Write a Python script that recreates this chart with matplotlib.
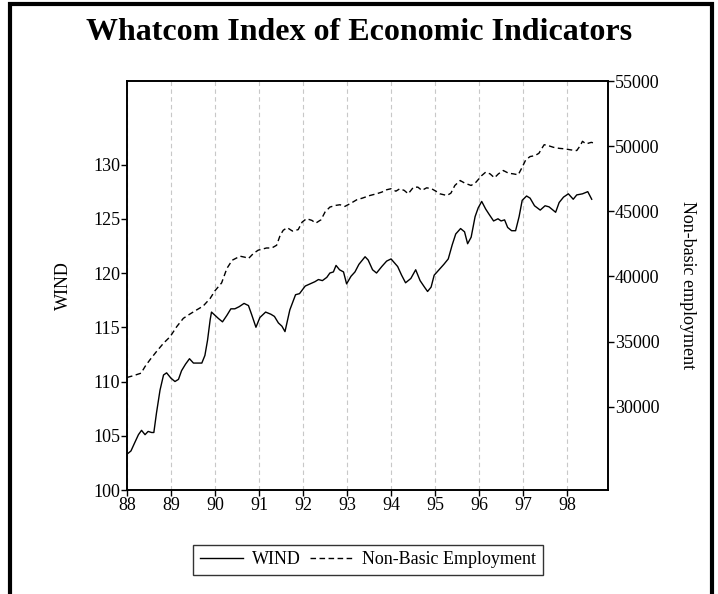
import matplotlib
matplotlib.use("Agg")
import matplotlib.pyplot as plt
from matplotlib.patches import Rectangle

plt.rcParams["font.family"] = ["Liberation Serif", "DejaVu Serif"]

# WIND index (left axis)
wind_year = [88.00, 88.09, 88.18, 88.26, 88.33, 88.41, 88.48, 88.56, 88.61, 88.67,
             88.75, 88.83, 88.90, 89.00, 89.09, 89.17, 89.24, 89.33, 89.42, 89.51,
             89.61, 89.70, 89.77, 89.83, 89.89, 89.92, 90.00, 90.08, 90.17, 90.27,
             90.36, 90.45, 90.55, 90.66, 90.76, 90.83, 90.93, 91.02, 91.15, 91.27,
             91.35, 91.44, 91.52, 91.59, 91.70, 91.83, 91.92, 92.05, 92.16, 92.27,
             92.35, 92.44, 92.54, 92.61, 92.69, 92.75, 92.83, 92.92, 92.99, 93.09,
             93.18, 93.27, 93.41, 93.48, 93.58, 93.67, 93.79, 93.90, 94.00, 94.15,
             94.24, 94.33, 94.45, 94.56, 94.66, 94.76, 94.83, 94.91, 94.98, 95.09,
             95.20, 95.30, 95.39, 95.47, 95.58, 95.67, 95.74, 95.82, 95.91, 95.98,
             96.06, 96.15, 96.23, 96.33, 96.43, 96.50, 96.58, 96.65, 96.74, 96.83,
             96.91, 96.98, 97.08, 97.16, 97.26, 97.39, 97.50, 97.59, 97.74, 97.82,
             97.92, 98.03, 98.14, 98.22, 98.35, 98.47, 98.56]
wind_val = [103.3, 103.6, 104.4, 105.1, 105.5, 105.1, 105.4, 105.3, 105.3, 107.1,
            109.2, 110.6, 110.8, 110.3, 110.0, 110.2, 111.0, 111.6, 112.1, 111.7,
            111.7, 111.7, 112.4, 113.8, 115.7, 116.4, 116.1, 115.8, 115.5, 116.1,
            116.7, 116.7, 116.9, 117.2, 117.0, 116.2, 115.0, 115.9, 116.4, 116.2,
            116.0, 115.4, 115.1, 114.6, 116.6, 118.0, 118.1, 118.8, 119.0, 119.2,
            119.4, 119.3, 119.6, 120.0, 120.1, 120.7, 120.3, 120.1, 119.0, 119.7,
            120.1, 120.8, 121.5, 121.2, 120.3, 120.0, 120.6, 121.1, 121.3, 120.6,
            119.8, 119.1, 119.5, 120.3, 119.3, 118.7, 118.3, 118.7, 119.8, 120.3,
            120.8, 121.3, 122.6, 123.6, 124.1, 123.8, 122.7, 123.3, 125.2, 126.0,
            126.6, 125.9, 125.4, 124.8, 125.0, 124.8, 124.9, 124.2, 123.9, 123.9,
            125.2, 126.7, 127.1, 126.9, 126.2, 125.8, 126.2, 126.1, 125.6, 126.5,
            127.0, 127.3, 126.8, 127.2, 127.3, 127.5, 126.8]

# Non-basic employment (right axis)
emp_year = [88.00, 88.14, 88.32, 88.41, 88.52, 88.67, 88.83, 88.98, 89.13, 89.28,
            89.43, 89.58, 89.73, 89.89, 90.00, 90.15, 90.27, 90.39, 90.57, 90.68,
            90.76, 90.87, 90.98, 91.17, 91.29, 91.40, 91.48, 91.55, 91.64, 91.76,
            91.89, 91.98, 92.08, 92.20, 92.29, 92.41, 92.50, 92.61, 92.74, 92.84,
            92.95, 93.09, 93.22, 93.35, 93.52, 93.67, 93.79, 93.90, 94.00, 94.11,
            94.20, 94.30, 94.39, 94.51, 94.61, 94.70, 94.81, 94.92, 95.02, 95.11,
            95.27, 95.36, 95.45, 95.57, 95.68, 95.82, 95.93, 96.06, 96.15, 96.25,
            96.35, 96.44, 96.55, 96.67, 96.78, 96.89, 96.98, 97.06, 97.16, 97.27,
            97.36, 97.42, 97.48, 97.57, 97.69, 97.82, 97.95, 98.09, 98.22, 98.30,
            98.35, 98.43, 98.55, 98.64]
emp_val = [32240, 32370, 32570, 33080, 33590, 34230, 34870, 35370, 36140, 36780,
           37110, 37420, 37720, 38310, 38900, 39500, 40610, 41240, 41550, 41470,
           41370, 41750, 42010, 42180, 42180, 42390, 43150, 43540, 43740, 43480,
           43590, 44170, 44430, 44300, 44090, 44350, 44940, 45320, 45450, 45500,
           45370, 45620, 45880, 46010, 46210, 46340, 46470, 46650, 46730, 46540,
           46730, 46600, 46340, 46850, 46850, 46600, 46800, 46730, 46540, 46340,
           46210, 46390, 46980, 47360, 47150, 46980, 47230, 47740, 48000, 47870,
           47570, 47870, 48130, 47920, 47870, 47800, 48380, 48940, 49200, 49270,
           49450, 49790, 50110, 50040, 49910, 49830, 49790, 49710, 49660, 50040,
           50370, 50170, 50290, 50210]

year_ticks = list(range(88, 99))
wind_ticks = [100, 105, 110, 115, 120, 125, 130]
emp_ticks = [30000, 35000, 40000, 45000, 50000, 55000]

W, H = 718, 594
fig = plt.figure(figsize=(W / 100, H / 100), dpi=100)
ax = fig.add_axes([127 / W, 1 - 490 / H, (608 - 127) / W, (490 - 81) / H])
ax2 = ax.twinx()

ax.plot(wind_year, wind_val, color="black", lw=1.0, label="WIND")
ax2.plot(emp_year, emp_val, color="black", lw=1.0, dashes=(4, 2.5),
         label="Non-Basic Employment")

ax.set_xlim(88, 98.93)
ax.set_ylim(100, 137.7)
ax2.set_ylim(23600, 55000)

ax.set_xticks(year_ticks)
ax.set_xticklabels([str(y) for y in year_ticks])
ax.set_yticks(wind_ticks)
ax2.set_yticks(emp_ticks)

ax.grid(axis="x", color="#c8c8c8", linestyle=(0, (4, 3)), lw=0.8)
ax.grid(axis="y", visible=False)

for a in (ax, ax2):
    a.tick_params(direction="out", length=4, width=1, labelsize=13, pad=1)
    for sp in a.spines.values():
        sp.set_linewidth(1.2)

ax.set_ylabel("WIND", fontsize=13, labelpad=15)
ax2.set_ylabel("Non-basic employment", fontsize=13, rotation=270, labelpad=26)

fig.text(0.5, 1 - 33 / H, "Whatcom Index of Economic Indicators",
         ha="center", va="center", fontsize=23, fontweight="bold")

h1, l1 = ax.get_legend_handles_labels()
h2, l2 = ax2.get_legend_handles_labels()
leg = fig.legend(h1 + h2, l1 + l2, loc="center", bbox_to_anchor=(368 / W, 1 - 560 / H),
                 ncol=2, fontsize=13, frameon=True, fancybox=False, edgecolor="black",
                 handlelength=2.4, handletextpad=0.5, columnspacing=0.5,
                 borderpad=0.35, borderaxespad=0)
leg.get_frame().set_linewidth(1.0)

# outer black frame (open at the bottom)
fig.patches.append(Rectangle((10 / W, -0.05), (712 - 10) / W, 1.05 - 4 / H,
                             transform=fig.transFigure, fill=False,
                             edgecolor="black", lw=3, clip_on=False))

fig.savefig("out.png", dpi=100)
